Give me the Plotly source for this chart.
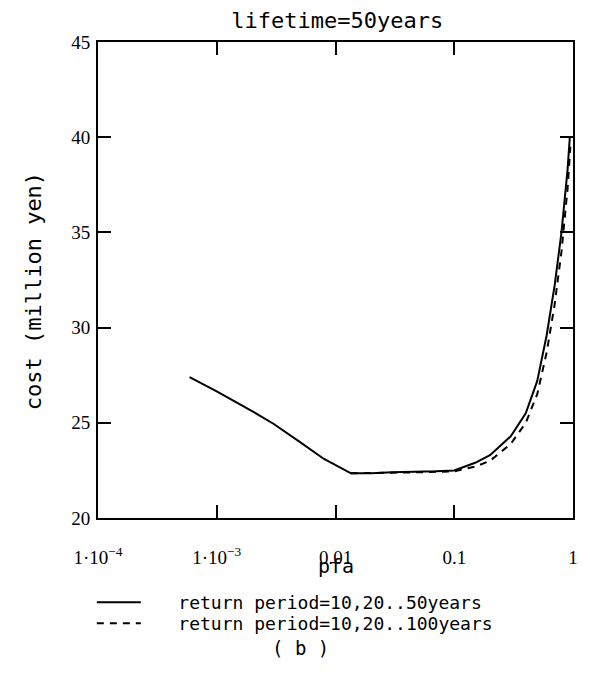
import plotly.graph_objects as go

# ---- data ----
pfa_50 = [5.9e-4, 1e-3, 2e-3, 3e-3, 5e-3, 8e-3, 0.0135, 0.02, 0.03, 0.05, 0.07, 0.1,
          0.15, 0.2, 0.3, 0.4, 0.5, 0.6, 0.7, 0.8, 0.9, 0.94]
cost_50 = [27.4, 26.65, 25.6, 24.95, 24.0, 23.1, 22.35, 22.35, 22.4, 22.42, 22.45, 22.5,
           22.9, 23.3, 24.3, 25.5, 27.2, 29.6, 32.2, 35.0, 38.3, 40.0]

pfa_100 = [0.0135, 0.02, 0.03, 0.05, 0.07, 0.1, 0.15, 0.2, 0.3, 0.4, 0.5, 0.6, 0.7,
           0.8, 0.9, 0.95]
cost_100 = [22.35, 22.35, 22.38, 22.4, 22.42, 22.45, 22.7, 23.0, 23.9, 25.0, 26.5,
            28.7, 31.2, 34.0, 37.3, 39.5]

x_tickvals = [1e-4, 1e-3, 1e-2, 1e-1, 1]
x_ticktext = ["1·10<sup>−4</sup>", "1·10<sup>−3</sup>", "0.01", "0.1", "1"]
y_tickvals = [20, 25, 30, 35, 40, 45]

series_names = ["return period=10,20..50years", "return period=10,20..100years"]
title_text = "lifetime=50years"
x_title = "pfa"
y_title = "cost (million yen)"
caption = "( b )"

MONO = "DejaVu Sans Mono"
SERIF = "Liberation Serif"
PAD = "   "  # gap between legend sample and its text

fig = go.Figure()
fig.add_trace(go.Scatter(x=pfa_50, y=cost_50, mode="lines", name=PAD + series_names[0],
                         line=dict(color="black", width=2), legend="legend"))
fig.add_trace(go.Scatter(x=pfa_100, y=cost_100, mode="lines", name=PAD + series_names[1],
                         line=dict(color="black", width=2, dash="7px,6px"),
                         legend="legend2"))

legend_common = dict(x=-0.013, xanchor="left", yanchor="top",
                     font=dict(family=MONO, size=18, color="black"),
                     itemwidth=44, bgcolor="rgba(0,0,0,0)")

fig.update_layout(
    width=590, height=693,
    margin=dict(l=98, r=14, t=42, b=175),
    paper_bgcolor="white", plot_bgcolor="white",
    title=dict(text=title_text, x=0.5715, xanchor="center", y=0.971, yanchor="middle",
               font=dict(family=MONO, size=22, color="black")),
    showlegend=True,
    legend=dict(y=-0.139, **legend_common),
    legend2=dict(y=-0.183, **legend_common),
    xaxis=dict(type="log", range=[-4, 0], tickvals=x_tickvals, ticktext=x_ticktext,
               showgrid=False, zeroline=False, showline=True, linecolor="black",
               linewidth=2, mirror="allticks", ticks="inside", ticklen=13,
               tickwidth=1.5, tickcolor="black", ticklabelstandoff=21,
               tickfont=dict(family=SERIF, size=19, color="black")),
    yaxis=dict(range=[20, 45], tickvals=y_tickvals,
               showgrid=False, zeroline=False, showline=True, linecolor="black",
               linewidth=2, mirror="allticks", ticks="inside", ticklen=13,
               tickwidth=1.5, tickcolor="black", ticklabelstandoff=2,
               tickfont=dict(family=SERIF, size=19, color="black")),
    annotations=[
        dict(text=x_title, xref="paper", yref="paper", x=0.5, y=-0.101,
             xanchor="center", yanchor="middle", showarrow=False,
             font=dict(family=MONO, size=20, color="black")),
        dict(text=y_title, xref="paper", yref="paper", x=-0.134, y=0.477,
             xanchor="center", yanchor="middle", textangle=-90, showarrow=False,
             font=dict(family=MONO, size=22, color="black")),
        dict(text=caption, xref="paper", yref="paper", x=0.426, y=-0.274,
             xanchor="center", yanchor="middle", showarrow=False,
             font=dict(family=MONO, size=19, color="black")),
    ],
)

fig.write_html("out.html")
